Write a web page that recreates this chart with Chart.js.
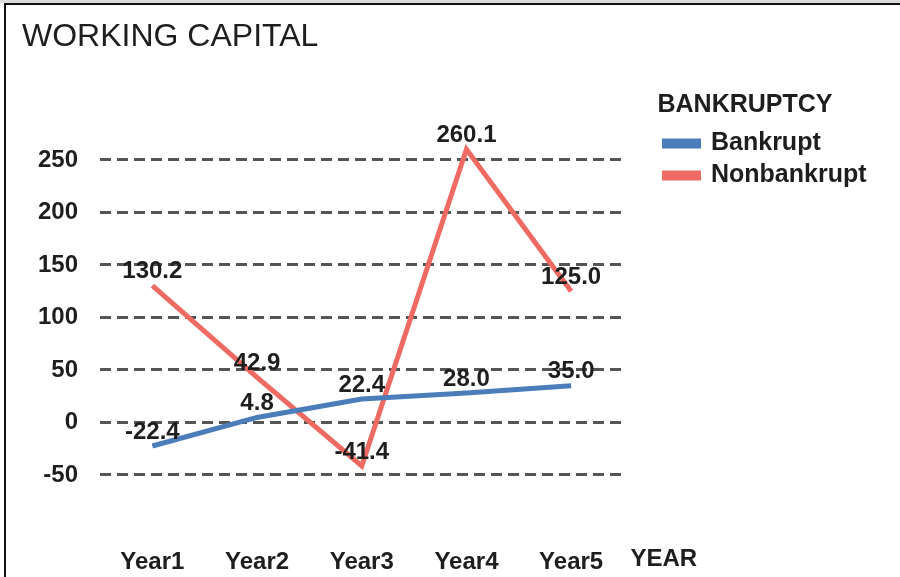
<!DOCTYPE html>
<html>
<head>
<meta charset="utf-8">
<title>Working Capital</title>
<script src="https://cdn.jsdelivr.net/npm/chart.js@4.4.1/dist/chart.umd.min.js"></script>
<style>
  html, body { margin: 0; padding: 0; background: #fff; }
  #wrap { position: relative; width: 900px; height: 577px; overflow: hidden; }
  #chart { position: absolute; left: 0; top: 0; }
  #topstrip { position: absolute; left: 0; top: 0; width: 900px; height: 3px; background: #dcdcdc; pointer-events: none; }
  #frame { position: absolute; left: 4px; top: 3px; width: 900px; height: 600px; border: 2px solid #111; border-bottom: none; box-sizing: border-box; pointer-events: none; }
</style>
</head>
<body>
<div id="wrap">
  <canvas id="chart" width="900" height="577"></canvas>
  <div id="topstrip"></div>
  <div id="frame"></div>
</div>
<script>
// Working capital by year, bankrupt vs. nonbankrupt firms
const years = ['Year1', 'Year2', 'Year3', 'Year4', 'Year5'];
const bankrupt = [-22.4, 4.8, 22.4, 28.0, 35.0];
const nonbankrupt = [130.2, 42.9, -41.4, 260.1, 125.0];
const yTicksShown = [-50, 0, 50, 100, 150, 200, 250];

const FONT = "'Liberation Sans', Arial, sans-serif";
const TEXT = '#1e1e1e';

// Value labels centred just above each point
const valueLabels = {
  id: 'valueLabels',
  afterDatasetsDraw(chart) {
    const ctx = chart.ctx;
    ctx.save();
    ctx.font = 'bold 24px ' + FONT;
    ctx.fillStyle = TEXT;
    ctx.textAlign = 'center';
    ctx.textBaseline = 'middle';
    chart.data.datasets.forEach((ds, i) => {
      const meta = chart.getDatasetMeta(i);
      meta.data.forEach((pt, j) => {
        ctx.fillText(ds.data[j].toFixed(1), pt.x, pt.y - 14);
      });
    });
    ctx.restore();
  }
};

// Category axis name placed at the end of the tick-label row
const axisName = {
  id: 'axisName',
  afterDraw(chart) {
    const xs = chart.scales.x;
    const ctx = chart.ctx;
    ctx.save();
    ctx.font = 'bold 24px ' + FONT;
    ctx.fillStyle = TEXT;
    ctx.textAlign = 'left';
    ctx.textBaseline = 'middle';
    ctx.fillText('YEAR', xs.right + 7, chart.chartArea.bottom + 32);
    ctx.restore();
  }
};

// Legend sits beside the plot, level with the top gridline
const legendPlace = {
  id: 'legendPlace',
  afterLayout(chart) {
    const lg = chart.legend;
    if (!lg) return;
    const w = lg.width, h = lg.height;
    lg.left = chart.chartArea.right + 34;
    lg.right = lg.left + w + 30;
    lg.top = 93;
    lg.bottom = lg.top + h;
  }
};

new Chart(document.getElementById('chart'), {
  type: 'line',
  data: {
    labels: years,
    datasets: [
      {
        label: 'Bankrupt',
        data: bankrupt,
        borderColor: '#4a7dba',
        backgroundColor: '#4a7dba',
        borderWidth: 5,
        pointRadius: 0,
        tension: 0
      },
      {
        label: 'Nonbankrupt',
        data: nonbankrupt,
        borderColor: '#ef6a62',
        backgroundColor: '#ef6a62',
        borderWidth: 5,
        pointRadius: 0,
        tension: 0
      }
    ]
  },
  options: {
    responsive: false,
    devicePixelRatio: 1,
    animation: false,
    layout: { padding: { left: 22, right: 76, top: 0, bottom: 0 } },
    plugins: {
      title: {
        display: true,
        text: 'WORKING CAPITAL',
        align: 'start',
        color: TEXT,
        font: { family: FONT, size: 32, weight: 'normal', lineHeight: 1.2 },
        padding: { top: 18, bottom: 51 }
      },
      legend: {
        position: 'right',
        align: 'start',
        title: {
          display: true,
          text: 'BANKRUPTCY',
          position: 'start',
          color: TEXT,
          font: { family: FONT, size: 25, weight: 'bold', lineHeight: 1.2 },
          padding: { top: 0, bottom: 1 }
        },
        labels: {
          color: TEXT,
          font: { family: FONT, size: 25, weight: 'bold' },
          boxWidth: 34,
          boxHeight: 5,
          padding: 7
        }
      },
      tooltip: { enabled: false }
    },
    scales: {
      x: {
        offset: true,
        grid: { display: false, drawTicks: false, offset: true },
        border: { display: false },
        ticks: {
          color: TEXT,
          font: { family: FONT, size: 24, weight: 'bold' },
          padding: 20,
          maxRotation: 0
        },
        afterFit(s) { s.height = 49.5; }
      },
      y: {
        min: -100,
        max: 300,
        grid: {
          drawTicks: false,
          lineWidth: 3,
          color: (c) => yTicksShown.includes(c.tick && c.tick.value) ? '#555555' : 'rgba(0,0,0,0)'
        },
        border: { display: false, dash: [11, 6] },
        ticks: {
          stepSize: 50,
          color: TEXT,
          font: { family: FONT, size: 24, weight: 'bold' },
          padding: 22,
          callback: (v) => yTicksShown.includes(v) ? String(v) : ''
        },
        afterFit(s) { s.width = 78; }
      }
    }
  },
  plugins: [valueLabels, axisName, legendPlace]
});
</script>
</body>
</html>
